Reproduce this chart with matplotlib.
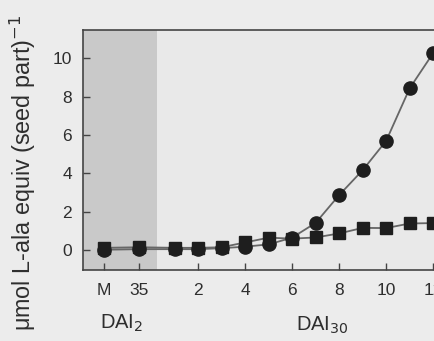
import matplotlib
matplotlib.use("Agg")
import matplotlib.pyplot as plt

# x positions: M, 35 (DAI2) then DAI30 days 1..12
x_pos = [-2.0, -0.5, 1, 2, 3, 4, 5, 6, 7, 8, 9, 10, 11, 12]
circles = [0.02, 0.05, 0.05, 0.05, 0.1, 0.18, 0.3, 0.65, 1.42, 2.87, 4.17, 5.7, 8.44, 10.28]
squares = [0.12, 0.15, 0.12, 0.12, 0.15, 0.4, 0.65, 0.6, 0.66, 0.87, 1.16, 1.15, 1.39, 1.41]
xtick_pos = [-2.0, -0.5, 2, 4, 6, 8, 10, 12]
xtick_labels = ["M", "35", "2", "4", "6", "8", "10", "12"]
yticks = [0, 2, 4, 6, 8, 10]

plt.rcParams['font.family'] = ['Liberation Sans', 'DejaVu Sans']

fig = plt.figure(figsize=(4.35, 3.41), dpi=100, facecolor='#ececec')
ax = fig.add_axes([0.1915, 0.208, 0.826, 0.704])
ax.set_facecolor('#e9e9e9')

ax.axvspan(-2.88, 0.26, color='#c9c9c9', zorder=0, lw=0)

ax.plot(x_pos, squares, color='#666666', lw=1.3, marker='s', markersize=8.5,
        markerfacecolor='#1e1e1e', markeredgecolor='#1e1e1e', zorder=3)
ax.plot(x_pos, circles, color='#666666', lw=1.3, marker='o', markersize=9.5,
        markerfacecolor='#1e1e1e', markeredgecolor='#1e1e1e', zorder=4)

ax.set_xlim(-2.88, 12.4)
ax.set_ylim(-1.04, 11.48)
ax.set_xticks(xtick_pos)
ax.set_xticklabels(xtick_labels)
ax.set_yticks(yticks)
ax.tick_params(direction='in', length=5, width=1, color='#444444',
               labelsize=12.5, labelcolor='#2e2e2e')
ax.tick_params(axis='x', pad=9)
ax.tick_params(axis='y', pad=8)
for s in ax.spines.values():
    s.set_color('#444444')
    s.set_linewidth(1.2)

fig.text(23/435, 1 - 173/341, r"μmol L-ala equiv (seed part)$^{-1}$", fontsize=16.8,
         color='#2e2e2e', rotation=90, ha='center', va='center')

fig.text(122/435, 1 - 323/341, r"DAI$_2$", fontsize=14.5, color='#2e2e2e',
         ha='center', va='center')
fig.text(322/435, 1 - 325/341, r"DAI$_{30}$", fontsize=14.5, color='#2e2e2e',
         ha='center', va='center')

fig.savefig("out.png", dpi=100, facecolor=fig.get_facecolor())
